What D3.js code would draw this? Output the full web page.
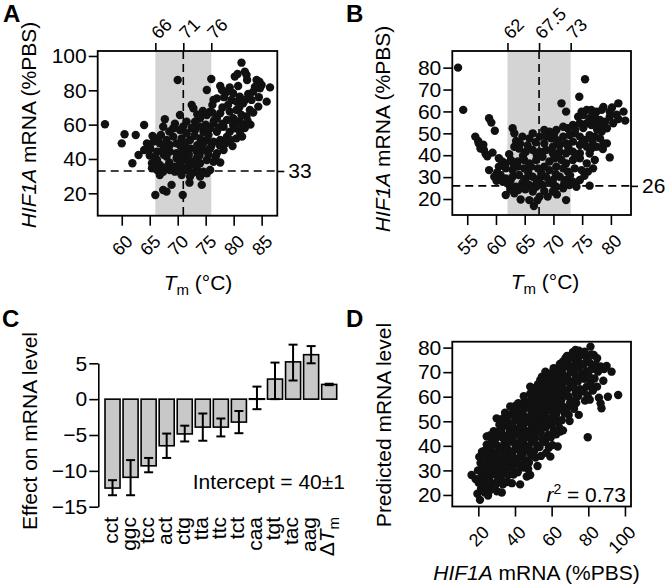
<!DOCTYPE html>
<html><head><meta charset="utf-8">
<script src="https://cdn.jsdelivr.net/npm/d3@7"></script>
<style>body{margin:0;background:#fff}svg{display:block}</style>
</head><body><svg id="c" width="666" height="586"></svg>
<script>
// ---------------- DATA ----------------
// Panel A
const aXTicks=[60,65,70,75,80,85];
const aYTicks=[20,40,60,80,100];
const aTopTicks=[66,71,76];
const aBand=[66,76];
const aVline=71;
const aHline=33;
const aPoints=[
[81.4,96.1],[82.0,90.9],[82.3,88.9],[82.4,86.0],[80.2,88.0],[80.7,89.5],[84.1,86.0],[84.6,85.0],[85.0,83.1],[76.0,86.6],[70.0,86.0],[77.6,82.5],[79.3,81.7],
[86.5,81.7],[75.2,80.2],[77.9,80.2],[78.8,79.2],[79.9,78.3],[81.1,76.3],[82.6,77.9],[83.5,79.2],[84.7,81.2],[82.0,74.4],[83.2,74.4],[84.4,70.5],[85.9,73.4],[79.6,74.4],[80.5,73.4],[77.0,75.3],[76.4,74.4],[81.7,72.4],
[82.9,68.5],[72.5,71.5],[72.8,69.5],[75.8,67.6],[75.2,65.6],[77.6,66.6],[79.3,67.6],[80.5,68.5],[81.4,65.6],[79.9,63.7],[78.8,62.7],[77.0,63.7],[74.0,63.7],[73.1,61.7],[71.6,61.7],[70.4,65.6],[67.7,63.1],[57.0,60.2],[64.0,59.8],[76.4,60.8],[81.1,61.7],[79.9,59.8],[82.3,64.7],
[60.5,54.4],[62.5,54.0],[65.5,53.4],[60.0,49.1],[67.4,58.8],[69.2,57.9],[70.4,56.9],[71.6,55.0],[73.1,56.9],[74.6,55.9],[75.8,57.9],[77.0,55.9],[78.2,58.8],[79.3,55.9],[80.2,57.9],[81.1,55.9],[68.0,51.1],[69.2,53.0],[70.7,52.0],[72.2,51.1],[74.0,52.0],[75.2,51.1],[76.4,50.1],[77.6,51.1],[78.8,53.0],[64.5,49.1],[65.7,50.1],[66.8,49.1],[68.6,48.2],[69.8,49.1],
[63.0,42.3],[64.0,45.2],[65.1,46.2],[66.3,44.3],[67.4,45.2],[68.6,44.3],[69.8,43.3],[71.0,45.2],[72.2,46.2],[73.4,44.3],[74.6,45.2],[75.8,46.2],[77.0,43.3],[78.2,45.2],[73.4,40.4],[71.6,39.4],[69.8,40.4],[68.0,41.4],[66.3,39.4],[65.4,37.5],[66.8,36.5],[70.4,37.5],[72.2,36.5],[74.0,37.5],[75.2,39.4],[76.4,38.4],[77.6,37.9],[61.9,37.5],
[65.4,34.6],[66.3,33.6],[67.4,32.6],[68.6,33.6],[69.5,32.6],[71.6,33.6],[73.4,34.6],[74.6,32.6],[75.8,33.6],[66.8,30.7],[70.7,30.7],[72.2,29.7],[74.0,29.7],[68.9,24.9],[72.1,26.2],[74.3,24.9],[67.4,21.9],[66.0,19.0],[70.9,19.0],[68.0,21.0],[75.2,31.7],
[73.5,48],[74.5,48.5],[76,47.5],[77.5,48],[78.5,49],[79.5,51],[80.5,52],[81.5,53],[82,58],[83,60],[82.5,62],[80.5,62],[78,60.5],[76.5,62.5],[75,60],[73.8,59],[72.5,58],[71,59],[69.5,60.5],[68.5,56],[67,54],[66.5,52],[67.8,47],[70.5,47.5],[72,42.5],[70.8,41.5],[67.5,42.5],[66,41],[65,42],[68.5,38],[69.5,35.5],[71,35],[72.8,38.5],[73.9,42],[75.5,42.5],[76.8,41.5],[66.2,35.5],[67.8,35],[70.2,33],[72.7,32],[73.8,31.5],[76.2,67],[74.5,68],[73.5,66],[78,70],[79,71.5],[81,70],[83.5,67],[84.5,76],[83.8,82],[80.8,82.5],[78.3,76],[76.2,71.5],[77.3,58],[75.5,54],[73,53.5],[71.3,49],[79.8,47.5],[81.5,59.5]
];
// Panel B
const bXTicks=[55,60,65,70,75,80];
const bYTicks=[20,30,40,50,60,70,80];
const bTopTicks=[62,67.5,73];
const bBand=[62,73];
const bVline=67.5;
const bHline=26;
const bPoints=[
[53.4,80],[54.3,60.7],
[74.5,66.7],[75.5,74.7],[71.4,63.7],[72.2,59.9],[74.9,59.9],[75.8,60.7],[76.6,60.7],[77.5,59.9],[78.4,60.7],[79.8,59.9],[81.3,63.7],[82.2,59.9],
[74.3,57.6],[75.2,58.4],[76.3,56.9],[77.2,57.6],[78.1,56.1],[79.0,55.3],[79.8,57.6],[81.3,56.5],[82.5,55.8],[75.8,54.6],[76.6,53.8],[77.5,54.3],[78.4,53.3],[74.6,54.6],[73.4,53.8],[72.5,52.3],[71.7,53.0],[70.5,51.5],[69.3,50.8],[68.4,51.5],[58.8,56.9],[59.2,54.9],[59.8,51.2],[78.4,50.8],[79.3,52.3],
[56.4,48.5],[62.9,52.3],[63.2,50.0],[64.6,48.5],[65.8,47.7],[66.4,50.0],[67.6,48.5],[68.7,48.5],[69.6,47.7],[70.5,47.0],[71.7,48.5],[72.8,49.2],[73.7,50.0],[74.6,48.5],[75.5,47.0],[76.3,49.2],[77.2,48.5],[78.1,47.7],[79.3,45.4],[68.4,45.4],[69.9,43.9],[71.1,44.7],[72.2,45.4],[73.4,46.2],[74.6,44.7],[75.8,43.9],[76.6,43.1],[77.5,43.9],[78.7,45.4],[57.0,45.4],[57.3,43.1],[57.9,42.4],[58.2,40.6],[59.4,41.2],[63.2,43.9],[64.0,43.1],[65.2,41.6],[66.4,42.4],[67.6,41.6],[68.7,42.4],[69.9,40.9],[71.1,41.6],[72.2,40.9],[73.4,41.6],[74.6,40.9],
[58.8,33.2],[60.5,38.6],[61.1,37.1],[61.7,36.3],[62.6,37.8],[63.8,37.1],[64.9,37.8],[65.8,36.3],[67.0,37.8],[68.1,39.3],[69.3,37.1],[70.2,38.6],[71.4,37.8],[72.2,36.3],[73.4,37.8],[74.6,38.6],[75.8,36.3],[77.2,37.8],[79.8,39.0],[60.5,34.8],[61.7,34.0],[62.9,33.2],[63.8,34.8],[64.9,34.0],[66.1,34.8],[67.3,34.0],[68.4,34.8],[69.3,33.2],[70.5,34.8],[71.7,34.0],[72.5,32.5],[73.7,34.0],[74.9,33.2],[76.0,32.5],[76.9,34.0],
[59.7,30.2],[60.8,31.0],[61.7,29.4],[62.9,30.2],[64.0,31.0],[65.2,29.4],[66.4,30.2],[67.6,29.4],[68.7,30.2],[69.9,28.7],[71.1,30.2],[72.2,28.7],[73.4,27.9],[74.6,28.7],[61.2,27.9],[62.3,26.4],[63.5,25.6],[64.6,27.2],[65.8,26.4],[67.0,25.6],[68.1,26.4],[69.3,27.9],[70.5,25.6],[71.7,25.6],[72.8,26.4],[74.0,25.6],[76.3,26.1],[61.7,21.8],[63.2,22.6],[64.3,19.8],[65.8,19.5],[66.4,23.4],[67.6,21.1],[69.0,21.1],[69.9,23.4],[71.7,24.9],[72.2,19.5],[66.6,16.8],
[56.9,46.5],[57.8,44.8],[58.5,39.5],[60.2,32.1],[63.5,46.5],[64.2,45.3],[65.5,44.5],[66.9,45.9],[70.9,46.2],[72.6,43.5],[75.1,45.8],[76.8,46.4],[78.6,42.8],[62.3,40.5],[64.7,39.8],[67.1,40.1],[70.8,39.7],[73.9,39.5],[76.3,40.8],[63.1,35.7],[65.6,32.2],[67.9,31.8],[70.4,31.4],[72.9,30.8],[75.4,30.6],[60.1,28.3],[62.5,28.1],[64.9,28.2],[67.1,27.6],[69.9,26.8],[71.9,27.3],[63.9,24.1],[65.1,24.4],[68.4,23.7],[62.5,24.3],[67.2,19.4],[70.6,22.1],[80.4,54.6],[81.0,58.5],[80.2,61.8],[76.9,55.5],[75.2,52.4],[73.8,51.6],[70.1,49.6],[77.6,51.7],[76.8,58.9],[78.7,62.0]
];
// Panel C
const cCategories=["cct","ggc","tcc","act","ctg","tta","ttc","tct","caa","tgt","tac","aag","ΔTm"];
const cValues=[-12.4,-10.9,-9.3,-6.5,-4.85,-3.9,-3.9,-3.2,0.05,2.8,5.2,6.2,2.05];
const cErrLow=[-13.4,-13.4,-10.2,-8.2,-5.9,-5.8,-5.2,-4.75,-1.4,0.0,2.6,5.0,1.95];
const cErrHigh=[-11.3,-8.5,-8.2,-4.8,-3.7,-2.0,-2.7,-1.65,1.75,5.1,7.6,7.4,2.15];
const cYTicks=[-15,-10,-5,0,5];
// Panel D
const dXTicks=[20,40,60,80,100];
const dYTicks=[20,30,40,50,60,70,80];
const dPoints=[
[16.3,28.1],[19.5,20.5],[20.9,18],[21.5,22.5],[20.2,25],[21.8,27.5],[19.8,30],[21.2,33],[20.5,35.5],[22,37.6],[18.5,26.5],[22.4,30.5],
[23.5,21],[24.2,23.8],[23.1,26],[24.8,28.2],[23.6,30.3],[24.5,32.4],[23.2,34.1],[24.9,36],[23.8,38.2],[24.6,40.5],[24.6,43.8],[25.3,19.8],
[26.5,22],[27.4,24.8],[26.1,27.2],[27.8,29.1],[26.7,31.3],[27.2,33.2],[26.3,35.4],[27.9,37.1],[26.8,39.3],[27.5,42],[26.2,44.2],[28.4,46],
[30.2,21.5],[29.4,24.2],[30.8,26.1],[29.6,28.3],[31.1,30.2],[29.9,32.1],[30.6,34.3],[29.2,36.4],[31.3,38.2],[30.1,40.3],[29.5,43.1],[30.9,45.7],[30.0,51.2],[31.5,48.6],
[32.8,21],[33.4,24.3],[32.3,27.1],[33.9,29.2],[32.6,31.4],[34.1,33.3],[32.9,35.2],[33.6,37.4],[32.2,39.1],[34.3,41.2],[33.1,43.4],[32.5,46.1],[34.0,48.2],[33.3,51],[34.6,53.5],
[35.6,25.3],[36.4,28.1],[35.2,30.2],[36.9,32.4],[35.8,34.1],[37.1,36.2],[36.1,38.4],[35.4,40.2],[36.8,42.1],[35.9,44.3],[37.3,46.2],[36.2,48.1],[35.5,50.3],[37.4,52.6],[37.4,56],
[38.3,24.8],[39.2,28.3],[38.6,31.1],[40.1,33.2],[39.0,35.4],[38.4,37.3],[40.3,39.1],[39.4,41.4],[38.8,43.2],[40.2,45.3],[39.1,47.4],[38.5,49.2],[40.4,51.1],[39.3,53.4],[40.1,56.2],[38.9,55.2],
[42.8,24.3],[41.5,29.2],[42.4,32.1],[41.2,34.3],[43.1,36.2],[42.0,38.4],[41.6,40.3],[43.3,42.1],[42.3,44.4],[41.3,46.1],[43.0,48.3],[42.1,50.2],[41.4,52.4],[43.2,54.1],[42.5,56.3],[41.8,57.4],
[44.6,31.2],[45.5,34.1],[44.2,36.3],[46.0,38.2],[45.1,40.4],[44.4,42.3],[46.2,44.1],[45.3,46.4],[44.5,48.2],[46.1,50.3],[45.0,52.1],[44.3,54.3],[46.3,56.2],[45.2,58.4],[44.8,60.2],[46.4,27.5],
[48.3,28.1],[47.6,33.2],[48.8,36.1],[47.3,39.2],[49.1,41.3],[48.1,43.2],[47.5,45.4],[49.2,47.1],[48.3,49.3],[47.4,51.2],[49.0,53.4],[48.2,55.3],[47.6,57.2],[49.3,59.4],[48.3,61.2],[48.3,64.1],[47.2,30.6],
[52.3,31.8],[51.2,35.2],[50.4,37.8],[52.1,40.3],[51.0,43.2],[50.3,45.8],[52.2,47.4],[51.3,49.6],[50.5,51.8],[52.4,53.6],[51.1,55.7],[50.2,57.8],[52.0,59.6],[51.2,61.8],[50.6,63.6],[52.6,65.1],
[54.2,35.9],[53.4,39.5],[55.1,42.6],[54.0,45.3],[53.2,47.8],[55.3,49.6],[54.3,51.4],[53.5,53.3],[55.2,55.5],[54.4,57.3],[53.3,59.2],[55.0,61.4],[53.8,63.2],[53.8,66.8],[55.4,65.3],[54.7,68.1],
[57.1,37.2],[56.4,41.6],[58.0,44.4],[56.8,47.5],[57.6,50.3],[56.2,52.7],[58.2,54.6],[57.0,56.5],[56.5,58.8],[58.1,60.6],[57.2,62.5],[56.3,64.6],[58.3,66.4],[57.5,68.7],[56.6,70.2],[58.5,39.3],
[59.3,35.6],[60.4,40.3],[59.6,43.5],[61.1,46.2],[60.0,48.6],[59.4,51.3],[61.2,53.7],[60.3,55.8],[59.5,57.6],[61.3,59.8],[60.4,61.6],[59.7,63.7],[61.4,65.5],[60.6,67.4],[59.8,69.6],[61.1,71.6],
[63.3,39.7],[62.5,44.7],[64.1,47.5],[63.0,50.1],[62.4,52.6],[64.3,54.8],[63.2,57.2],[62.6,59.4],[64.4,61.2],[63.4,63.3],[62.3,65.4],[64.2,67.3],[63.1,69.5],[62.7,71.4],[64.5,73.3],[64.7,45.8],
[66.2,46.3],[65.5,50.4],[67.1,53.2],[66.0,56.1],[65.3,58.7],[67.2,60.8],[66.3,62.6],[65.6,64.7],[67.3,66.5],[66.4,68.6],[65.5,70.3],[67.0,72.2],[66.2,74.4],[67.6,75.8],
[69.3,52.6],[68.4,55.4],[70.1,57.6],[69.0,60.2],[68.3,62.5],[70.2,64.3],[69.2,66.4],[68.5,68.2],[70.3,70.1],[69.4,72.3],[68.6,74.2],[70.0,76.1],[68.4,76.6],[69.8,50.1],
[72.2,55.1],[71.3,58.3],[73.1,61.2],[72.0,63.6],[71.4,66.1],[73.2,67.8],[72.1,69.9],[71.5,72.2],[73.0,74.1],[72.3,76.2],[71.6,78.1],[73.0,79.0],[73.4,57.4],
[74.8,52.6],[74.5,60.3],[75.6,63.1],[74.3,66.2],[76.1,68.9],[75.0,71.8],[74.4,74.6],[75.7,77.0],[74.9,78.7],[76.3,73.2],
[78.2,58.4],[77.3,62.2],[79.1,64.1],[77.8,67.3],[78.8,70.2],[77.5,73.1],[79.0,75.8],[78.0,78.3],[79.4,70.2],[79.6,60.5],
[79.7,43.5],[81.2,65.5],[80.3,68.3],[81.6,71.2],[80.4,74.1],[81.8,77.2],[81.2,80.4],[82.5,62.5],[80.8,58.8],
[84.8,64.1],[83.4,67.4],[85.3,70.2],[83.0,77],[84.8,75.7],[86.7,72.3],[83.9,73],[86.7,57.3],[87.2,55.3],[85.8,59.6],
[90.7,60],[96.3,60.7],[90.0,72.5],[92.7,70.2],[88.6,71.3],[88.2,66.5]
];

// ---------------- DRAWING ----------------
const FONT="'Liberation Sans', Arial, Helvetica, sans-serif";
const FS=21;
const FS_ROT=18;
const svg=d3.select("#c");
svg.append("rect").attr("width",666).attr("height",586).attr("fill","#fff");

function styleAxis(g){
  g.attr("font-family",FONT).attr("font-size",FS);
  g.select(".domain").remove();
  g.selectAll(".tick line").attr("stroke","#000").attr("stroke-width",1.6);
  g.selectAll(".tick text").attr("fill","#000");
}

function scatterPanel(o){
  const g=svg.append("g");
  const x=d3.scaleLinear().domain(o.xd).range([o.x0,o.x1]);
  const y=d3.scaleLinear().domain(o.yd).range([o.y1,o.y0]);
  if(o.band){
    g.append("rect").attr("x",x(o.band[0])).attr("y",o.y0)
      .attr("width",x(o.band[1])-x(o.band[0])).attr("height",o.y1-o.y0).attr("fill","#d4d4d4");
  }
  if(o.vline!=null){
    g.append("line").attr("x1",x(o.vline)).attr("x2",x(o.vline)).attr("y1",o.y0).attr("y2",o.y1)
      .attr("stroke","#000").attr("stroke-width",1.6).attr("stroke-dasharray","8,5");
  }
  if(o.hline!=null){
    g.append("line").attr("x1",o.x0).attr("x2",o.x1).attr("y1",y(o.hline)).attr("y2",y(o.hline))
      .attr("stroke","#000").attr("stroke-width",1.6).attr("stroke-dasharray","8,5");
  }
  g.append("g").selectAll("circle").data(o.points).join("circle")
    .attr("cx",d=>x(d[0])).attr("cy",d=>y(d[1])).attr("r",4.2).attr("fill","#111");
  g.append("rect").attr("x",o.x0).attr("y",o.y0).attr("width",o.x1-o.x0).attr("height",o.y1-o.y0)
    .attr("fill","none").attr("stroke","#000").attr("stroke-width",1.8);
  // left axis
  const ay=g.append("g").attr("transform",`translate(${o.x0},0)`)
    .call(d3.axisLeft(y).tickValues(o.yTicks).tickSize(9).tickPadding(2).tickSizeOuter(0));
  styleAxis(ay);
  // bottom axis
  const ax=g.append("g").attr("transform",`translate(0,${o.y1})`)
    .call(d3.axisBottom(x).tickValues(o.xTicks).tickSize(10).tickSizeOuter(0));
  styleAxis(ax);
  ax.selectAll(".tick text").attr("x",0).attr("y",0).attr("dy",0).attr("font-size",FS_ROT)
    .attr("text-anchor","end").attr("transform","translate(11.5,27) rotate(-45)");
  if(o.topTicks){
    const at=g.append("g").attr("transform",`translate(0,${o.y0})`)
      .call(d3.axisTop(x).tickValues(o.topTicks).tickSize(8).tickSizeOuter(0).tickFormat(d3.format("")));
    styleAxis(at);
    at.selectAll(".tick text").attr("x",0).attr("y",0).attr("dy",0).attr("font-size",FS_ROT)
      .attr("text-anchor","start").attr("transform","translate(3,-11) rotate(-45)");
  }
  if(o.hline!=null){
    const ar=g.append("g").attr("transform",`translate(${o.x1},0)`)
      .call(d3.axisRight(y).tickValues([o.hline]).tickSize(7).tickPadding(4).tickSizeOuter(0));
    styleAxis(ar);
  }
  return {x,y,g};
}

function hifLabel(sel){
  sel.append("tspan").attr("font-style","italic").text("HIF1A");
  sel.append("tspan").text(" mRNA (%PBS)");
}
function tmLabel(sel){
  sel.append("tspan").attr("font-style","italic").text("T");
  sel.append("tspan").attr("font-size",15).attr("dy",5).text("m");
  sel.append("tspan").attr("dy",-5).text(" (°C)");
}

// Panel A
scatterPanel({x0:97.7,x1:277.3,y0:51,y1:215.7,xd:[55.7,87.8],yd:[6.95,102.9],
  points:aPoints,band:aBand,vline:aVline,hline:aHline,xTicks:aXTicks,yTicks:aYTicks,topTicks:aTopTicks});
// Panel B
scatterPanel({x0:452.3,x1:631,y0:51,y1:215,xd:[52.4,83.5],yd:[12.7,87.6],
  points:bPoints,band:bBand,vline:bVline,hline:bHline,xTicks:bXTicks,yTicks:bYTicks,topTicks:bTopTicks});
// Panel D
scatterPanel({x0:452.3,x1:631,y0:341.7,y1:506.5,xd:[5.8,103.3],yd:[15.3,82.4],
  points:dPoints,xTicks:dXTicks,yTicks:dYTicks});

// Panel C
{
  const g=svg.append("g");
  const y=d3.scaleLinear().domain([-15,5]).range([506.7,363.3]);
  const x=d3.scaleBand().domain(cCategories).range([105,336.7]).paddingInner(0.167).paddingOuter(0);
  const bw=x.bandwidth();
  g.selectAll("rect.bar").data(cCategories).join("rect").attr("class","bar")
    .attr("x",d=>x(d)).attr("width",bw)
    .attr("y",(d,i)=>Math.min(y(cValues[i]),y(0)))
    .attr("height",(d,i)=>Math.max(Math.abs(y(cValues[i])-y(0)),0.5))
    .attr("fill","#c8c8c8").attr("stroke","#000").attr("stroke-width",1.6);
  const eb=g.append("g").attr("stroke","#000").attr("stroke-width",2);
  cCategories.forEach((c,i)=>{
    const cx=x(c)+bw/2;
    eb.append("line").attr("x1",cx).attr("x2",cx).attr("y1",y(cErrLow[i])).attr("y2",y(cErrHigh[i]));
    eb.append("line").attr("x1",cx-4.5).attr("x2",cx+4.5).attr("y1",y(cErrLow[i])).attr("y2",y(cErrLow[i]));
    eb.append("line").attr("x1",cx-4.5).attr("x2",cx+4.5).attr("y1",y(cErrHigh[i])).attr("y2",y(cErrHigh[i]));
  });
  const ay=g.append("g").attr("transform","translate(98.3,0)")
    .call(d3.axisLeft(y).tickValues(cYTicks).tickSize(9).tickPadding(2).tickSizeOuter(0));
  ay.attr("font-family",FONT).attr("font-size",FS);
  ay.select(".domain").attr("stroke","#000").attr("stroke-width",1.6);
  ay.selectAll(".tick line").attr("stroke","#000").attr("stroke-width",1.6);
  ay.selectAll(".tick text").attr("fill","#000");
  // category labels
  cCategories.forEach((c,i)=>{
    const t=g.append("text").attr("font-family",FONT).attr("font-size",FS).attr("text-anchor","end")
      .attr("transform",`translate(${x(c)+bw/2+5},517) rotate(-90)`);
    if(c==="ΔTm"){
      t.append("tspan").text("Δ");
      t.append("tspan").attr("font-style","italic").text("T");
      t.append("tspan").attr("font-size",15).attr("dy",5).text("m");
    } else t.text(c);
  });
  g.append("text").attr("font-family",FONT).attr("font-size",FS).attr("text-anchor","end")
    .attr("x",345).attr("y",489).text("Intercept = 40±1");
  g.append("text").attr("font-family",FONT).attr("font-size",FS).attr("text-anchor","middle")
    .attr("transform","translate(36.5,431) rotate(-90)").text("Effect on mRNA level");
}

// Titles
const tA=svg.append("text").attr("font-family",FONT).attr("font-size",FS).attr("text-anchor","middle")
  .attr("transform","translate(36,125) rotate(-90)");
hifLabel(tA);
const tB=svg.append("text").attr("font-family",FONT).attr("font-size",FS).attr("text-anchor","middle")
  .attr("transform","translate(390,129) rotate(-90)");
hifLabel(tB);
tmLabel(svg.append("text").attr("font-family",FONT).attr("font-size",FS).attr("text-anchor","middle").attr("x",198).attr("y",289.5));
tmLabel(svg.append("text").attr("font-family",FONT).attr("font-size",FS).attr("text-anchor","middle").attr("x",545).attr("y",289));
svg.append("text").attr("font-family",FONT).attr("font-size",FS).attr("text-anchor","middle")
  .attr("transform","translate(391,425) rotate(-90)").text("Predicted mRNA level");
hifLabel(svg.append("text").attr("font-family",FONT).attr("font-size",FS).attr("text-anchor","middle").attr("x",536.5).attr("y",580));
// r^2
{
  const t=svg.append("text").attr("font-family",FONT).attr("font-size",FS).attr("text-anchor","end").attr("x",626).attr("y",502);
  t.append("tspan").attr("font-style","italic").text("r");
  t.append("tspan").attr("font-size",14).attr("dy",-8).text("2");
  t.append("tspan").attr("dy",8).text(" = 0.73");
}
// Panel letters
[["A",3,22],["B",346,22],["C",2,327],["D",346,327]].forEach(([l,x,y])=>{
  svg.append("text").attr("font-family",FONT).attr("font-size",24).attr("font-weight","bold").attr("x",x).attr("y",y).text(l);
});
</script></body></html>
